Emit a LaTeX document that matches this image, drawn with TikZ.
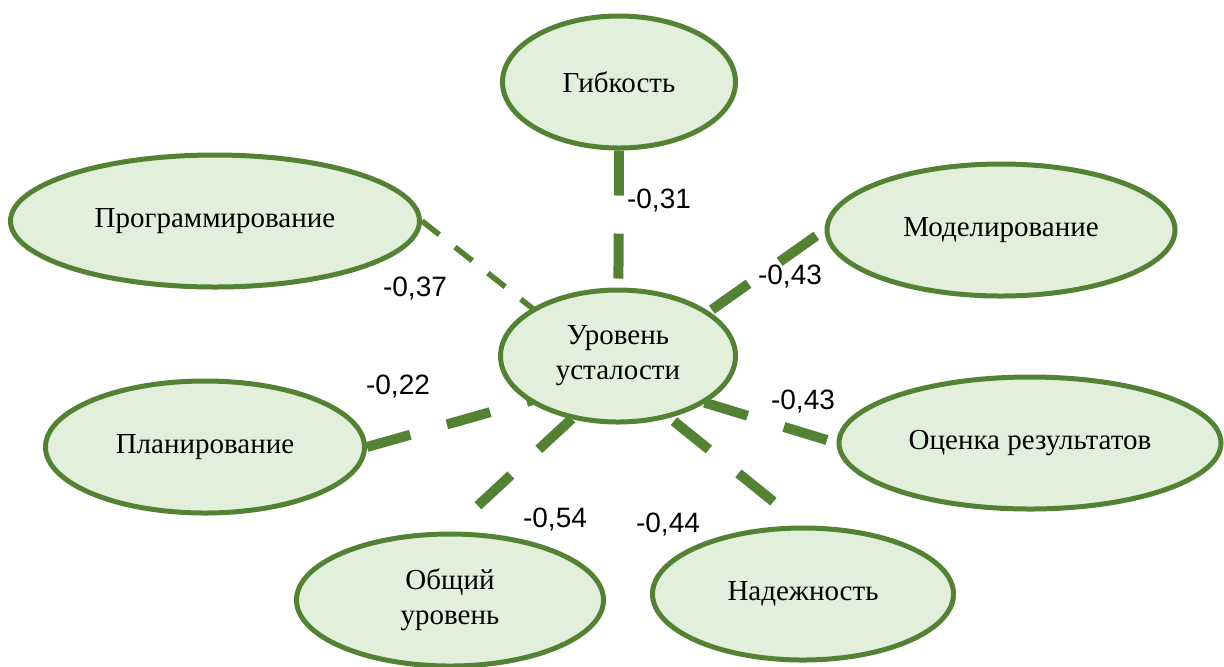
\documentclass[tikz,border=0pt]{standalone}
\usepackage{fontspec}
\setmainfont{Liberation Serif}
\newfontfamily\numfont{Liberation Sans}
\usetikzlibrary{shapes.geometric,backgrounds}
\definecolor{leafgreen}{HTML}{548235}
\definecolor{paleleaf}{HTML}{E2EFDA}

\begin{document}
\begin{tikzpicture}[x=0.5pt,y=-0.5pt]
\useasboundingbox (0,0) rectangle (1224,666);
\begin{scope}[every node/.style={ellipse,draw=leafgreen,fill=paleleaf,line width=2.5pt,
              minimum height=66pt,inner sep=0pt,align=center,
              font=\fontsize{14.5}{17.5}\selectfont}]
    \node[minimum width=117.5pt] (lvl) at (618,356) {Уровень\\усталости};
    \node[minimum width=116.5pt] (gib) at (619,82) {Гибкость};
    \node[minimum width=204.5pt] (prog) at (215,221) {Программирование};
    \node[minimum width=174pt] (model) at (1001,230) {Моделирование};
    \node[minimum width=159.5pt] (plan) at (205,447) {Планирование};
    \node[minimum width=191pt] (ocenka) at (1030,443) {Оценка результатов};
    \node[minimum width=153.5pt] (obsh) at (450,600) {Общий\\уровень};
    \node[minimum width=150.5pt] (nadezh) at (803,594) {Надежность};
\end{scope}
\coordinate (hub) at ([yshift=-10pt]lvl.center);

\begin{scope}[on background layer,
              every edge/.style={draw=leafgreen,line width=5pt,dash pattern=on 22.5pt off 19pt}]
    \path (gib.south) edge (hub);
    \path (prog.east) edge[line width=2.75pt,dash pattern=on 11pt off 10pt] (hub);
    \path (model.west) edge[dash phase=36.5pt] (hub);
    \path (plan.east) edge (hub);
    \path (ocenka.west) edge[dash phase=36.5pt] (hub);
    \path (obsh.north) edge[dash phase=22.5pt] (hub);
    \path (nadezh.north) edge[dash phase=22.5pt] (hub);
\end{scope}

\begin{scope}[every node/.style={font=\numfont\fontsize{14}{17}\selectfont}]
    \node (kGib) at (659,201) {-0,31};
    \node (kProg) at (415,289) {-0,37};
    \node (kModel) at (790,277) {-0,43};
    \node (kPlan) at (398,386) {-0,22};
    \node (kOcenka) at (803,401) {-0,43};
    \node (kObsh) at (555,519) {-0,54};
    \node (kNadezh) at (668,524) {-0,44};
\end{scope}
\end{tikzpicture}
\end{document}
